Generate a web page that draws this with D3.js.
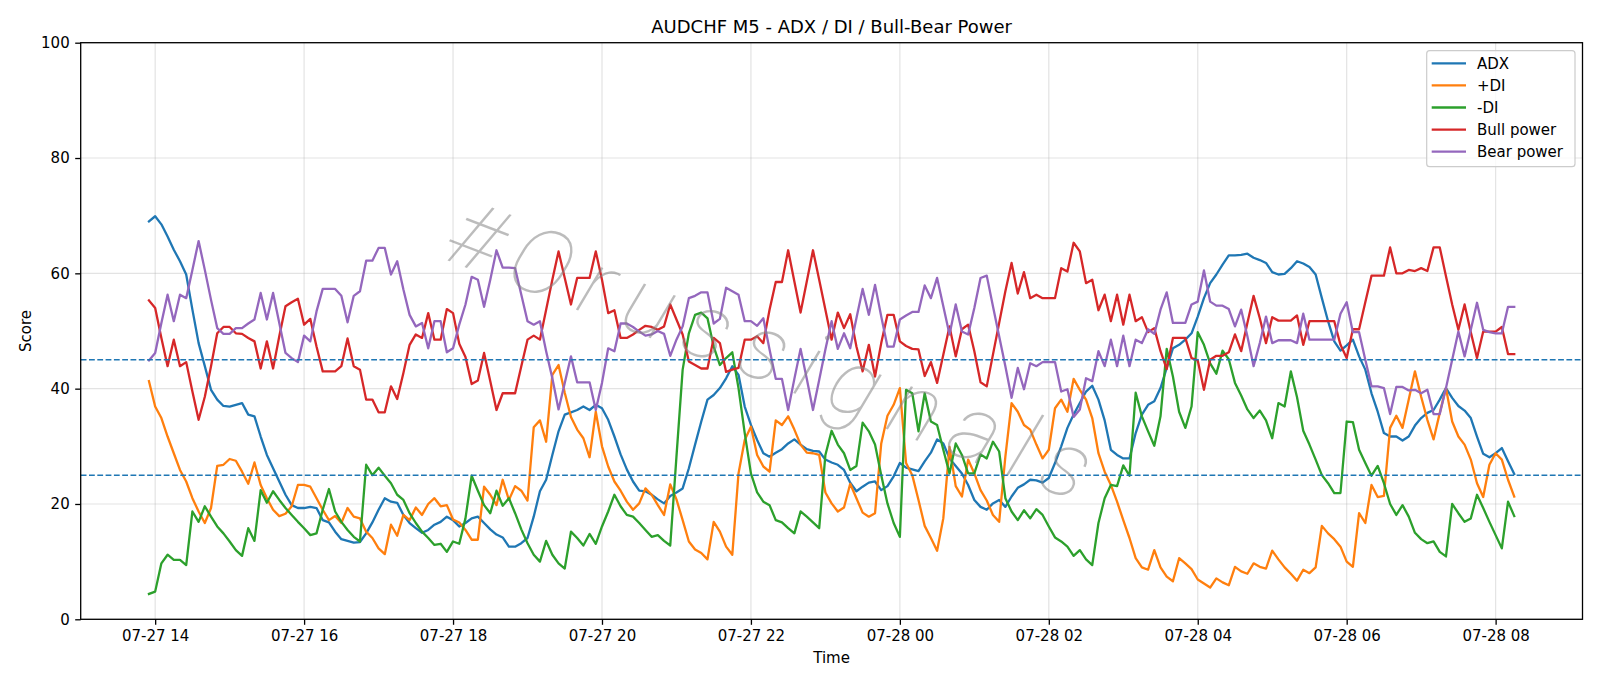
<html>
<head>
  <script src="https://d3js.org/d3.v7.min.js"></script>
  <style>
    body { margin: 0; background: white; }
    text { font-family: "DejaVu Sans", sans-serif; fill: black; }
  </style>
</head>
<body>
  <svg id="chart" width="1600" height="686"></svg>
  <script>
    // 5 minute bars, first bar at 07-27 13:55
    const startTime = Date.UTC(2025, 6, 27, 13, 55);
    const stepMinutes = 5;

    const adx = [
      69.0, 69.9, 68.5, 66.4, 64.1, 62.1, 59.8, 53.7, 47.9, 43.9,
      39.8, 38.1, 37.0, 36.9, 37.2, 37.5, 35.5, 35.2, 31.7, 28.5,
      26.2, 23.9, 21.6, 19.8, 19.3, 19.3, 19.5, 19.3, 17.2, 16.8,
      15.2, 13.9, 13.6, 13.3, 13.4, 14.9, 16.8, 19.0, 21.0, 20.4,
      20.2, 18.1, 16.7, 15.8, 15.0, 15.5, 16.4, 16.9, 17.8, 17.2,
      16.1, 16.7, 17.5, 17.8, 16.7, 15.6, 14.7, 14.2, 12.6, 12.6,
      13.2, 14.1, 17.8, 22.2, 24.2, 28.5, 32.6, 35.5, 35.9, 36.3,
      36.9, 36.3, 37.2, 36.6, 34.6, 31.7, 28.6, 26.0, 23.9, 22.3,
      22.2, 21.6, 20.8, 20.1, 21.4, 22.0, 22.7, 26.2, 30.3, 34.3,
      38.1, 38.9, 40.1, 41.8, 43.9, 42.4, 36.9, 33.7, 31.1, 28.8,
      28.2, 28.9, 29.5, 30.5, 31.2, 30.3, 29.5, 29.2, 29.1, 27.7,
      27.2, 26.8, 25.9, 23.7, 22.2, 23.0, 23.7, 23.9, 22.4, 23.1,
      24.8, 27.1, 26.3, 26.0, 25.7, 27.4, 28.9, 31.2, 30.5, 27.9,
      26.6, 25.3, 23.3, 20.7, 19.5, 19.0, 20.1, 20.7, 19.5, 21.3,
      22.8, 23.4, 24.2, 24.1, 23.7, 24.5, 27.1, 30.0, 33.2, 35.5,
      37.5, 39.5, 40.5, 38.1, 34.5, 29.4, 28.5, 27.9, 27.9, 32.3,
      35.5, 37.2, 37.8, 40.1, 43.6, 47.0, 47.6, 48.5, 49.6, 52.5,
      55.7, 58.3, 59.8, 61.5, 63.1, 63.1, 63.2, 63.4, 62.7, 62.3,
      61.8, 60.2, 59.8, 59.9, 60.9, 62.1, 61.7, 61.1, 59.8, 55.7,
      51.7, 48.2, 46.6, 47.5, 48.5, 45.6, 43.3, 39.2, 36.0, 32.3,
      31.7, 31.7, 31.0, 31.7, 33.6, 34.9, 35.8, 36.3, 38.1, 40.1,
      38.4, 37.0, 36.2, 34.9, 31.7, 28.7, 28.1, 28.8, 29.7, 27.4,
      25.2
    ];

    const plusDi = [
      41.3, 36.9, 34.9, 31.7, 28.8, 25.9, 23.9, 21.0, 18.7, 16.7,
      19.3, 26.6, 26.8, 27.8, 27.5, 25.6, 23.5, 27.2, 23.3, 21.0,
      19.0, 17.9, 18.3, 19.6, 23.3, 23.3, 23.0, 21.0, 19.0, 17.2,
      17.9, 16.7, 19.3, 17.8, 17.5, 15.2, 14.1, 12.3, 11.3, 16.4,
      14.5, 18.1, 17.2, 19.4, 18.1, 20.0, 21.0, 19.6, 19.8, 17.3,
      16.8, 15.5, 13.8, 13.8, 23.0, 21.6, 19.8, 24.2, 20.7, 23.1,
      22.3, 20.6, 33.3, 34.5, 30.8, 42.4, 44.1, 39.3, 35.1, 32.9,
      31.4, 28.1, 36.0, 30.0, 26.5, 23.9, 22.3, 20.4, 19.0, 20.1,
      22.7, 21.6, 19.8, 18.1, 23.4, 20.8, 17.2, 13.5, 12.1, 11.5,
      10.4, 16.9, 15.2, 12.6, 11.2, 25.3, 31.1, 33.4, 28.5, 26.5,
      25.6, 34.5, 33.7, 35.2, 32.9, 30.3, 28.9, 28.8, 28.5, 22.0,
      20.1, 18.7, 19.4, 23.5, 21.0, 18.5, 17.8, 18.4, 30.5, 35.3,
      37.2, 40.1, 27.1, 25.0, 20.7, 16.2, 14.1, 11.9, 17.5, 29.9,
      23.1, 21.3, 27.7, 25.3, 22.4, 20.6, 18.1, 16.9, 28.2, 37.5,
      36.0, 33.7, 32.9, 30.3, 27.9, 29.4, 36.6, 38.1, 36.0, 41.7,
      39.8, 38.1, 34.9, 28.8, 25.6, 23.3, 20.4, 17.2, 14.1, 10.6,
      9.0, 8.6, 12.0, 9.0, 7.4, 6.6, 10.6, 9.7, 8.7, 6.9,
      6.2, 5.5, 7.1, 6.4, 5.9, 9.1, 8.3, 7.9, 9.7, 9.1,
      8.8, 11.9, 10.4, 9.0, 7.9, 6.7, 8.6, 8.0, 9.0, 16.2,
      14.9, 13.9, 12.6, 10.0, 9.1, 18.4, 16.7, 23.3, 21.2, 21.4,
      33.2, 35.3, 33.2, 38.1, 43.0, 38.6, 34.6, 31.2, 35.8, 40.1,
      34.3, 31.7, 30.3, 27.7, 23.6, 21.2, 26.8, 28.8, 27.7, 24.2,
      21.3
    ];

    const minusDi = [
      4.4, 4.8, 9.7, 11.2, 10.3, 10.3, 9.4, 18.7, 16.9, 19.6,
      17.8, 16.1, 14.9, 13.5, 12.0, 11.0, 15.8, 13.6, 22.4, 20.2,
      22.2, 20.7, 19.3, 18.1, 16.9, 15.8, 14.6, 14.9, 19.0, 22.6,
      18.7, 16.9, 15.5, 14.3, 13.5, 26.8, 25.0, 26.3, 24.9, 23.6,
      21.6, 20.7, 18.4, 16.7, 15.2, 14.1, 12.9, 13.1, 11.7, 13.5,
      13.1, 17.5, 24.9, 22.3, 19.8, 18.4, 22.3, 19.7, 21.0, 18.4,
      15.6, 13.2, 11.2, 10.0, 13.6, 11.2, 9.7, 8.8, 15.2, 14.1,
      12.8, 14.8, 13.1, 16.1, 18.7, 21.6, 19.6, 18.1, 17.8, 16.7,
      15.5, 14.3, 14.6, 13.6, 12.8, 28.2, 43.3, 49.6, 52.8, 53.2,
      52.2, 47.3, 44.1, 45.3, 46.3, 40.1, 32.3, 25.3, 22.0, 20.4,
      19.8, 17.2, 16.8, 15.8, 14.9, 18.7, 17.8, 16.8, 15.8, 28.5,
      32.7, 30.3, 28.8, 25.9, 26.6, 34.1, 32.6, 30.3, 25.0, 20.1,
      16.7, 14.3, 39.8, 39.2, 32.6, 39.2, 34.3, 33.7, 29.4, 25.3,
      30.5, 28.5, 25.3, 25.3, 28.6, 27.9, 30.8, 29.1, 21.0, 18.7,
      17.2, 18.9, 17.5, 19.1, 18.1, 16.1, 14.2, 13.5, 12.6, 11.0,
      12.0, 10.4, 9.4, 16.7, 21.0, 23.3, 23.1, 26.7, 24.9, 39.3,
      35.2, 32.6, 30.1, 35.2, 46.9, 42.1, 36.0, 33.2, 36.9, 49.8,
      47.6, 44.4, 42.6, 46.6, 45.1, 41.0, 38.8, 36.4, 34.9, 36.2,
      34.5, 31.4, 37.5, 36.9, 43.0, 38.5, 32.7, 30.3, 27.7, 25.0,
      23.6, 21.9, 21.9, 34.3, 34.2, 29.4, 27.1, 24.9, 26.6, 23.6,
      20.0, 18.1, 19.8, 17.8, 15.0, 13.9, 13.2, 13.5, 11.7, 10.9,
      20.0, 18.4, 16.9, 17.5, 21.6, 19.3, 16.9, 14.6, 12.3, 20.4,
      17.9
    ];

    const bullPower = [
      55.3, 54.0, 48.8, 43.9, 48.5, 43.9, 44.6, 39.5, 34.6, 38.6,
      43.9, 49.6, 50.7, 50.7, 49.6, 49.5, 48.8, 48.2, 43.5, 48.2,
      43.5, 49.1, 54.3, 55.0, 55.6, 51.1, 52.1, 47.3, 43.0, 43.0,
      43.0, 43.9, 48.7, 43.9, 43.3, 38.1, 38.1, 35.9, 35.9, 40.4,
      38.2, 42.7, 47.6, 49.4, 48.8, 53.1, 48.5, 48.5, 53.8, 53.1,
      47.8, 45.5, 40.8, 41.4, 46.2, 41.3, 36.3, 39.2, 39.2, 39.2,
      43.9, 48.5, 49.2, 48.5, 53.7, 58.9, 63.8, 59.2, 54.6, 59.2,
      59.2, 59.2, 63.8, 58.9, 53.1, 53.6, 48.8, 48.8, 49.4, 50.2,
      50.9, 50.7, 50.2, 50.8, 54.6, 52.0, 49.4, 44.7, 44.1, 43.5,
      43.5, 48.8, 47.9, 42.9, 43.3, 43.6, 48.5, 48.5, 49.1, 47.9,
      53.7, 58.5, 58.5, 64.0, 58.6, 53.2, 58.6, 64.0, 58.9, 53.7,
      48.5, 53.2, 50.5, 52.9, 47.3, 43.0, 47.6, 42.1, 47.9, 52.8,
      52.8, 48.2, 47.4, 46.9, 46.8, 42.2, 44.6, 41.0, 45.9, 50.8,
      45.6, 50.3, 51.1, 46.5, 41.1, 40.4, 45.9, 51.4, 56.9, 61.8,
      56.5, 60.2, 55.7, 56.3, 55.7, 55.7, 55.7, 60.9, 60.3, 65.3,
      63.8, 58.3, 58.9, 53.6, 56.3, 51.7, 56.3, 51.1, 56.3, 51.7,
      52.4, 49.8, 50.5, 46.5, 43.4, 48.8, 48.8, 48.8, 45.3, 44.9,
      39.8, 45.0, 45.7, 45.7, 46.3, 49.4, 46.5, 51.4, 56.1, 52.2,
      47.9, 52.4, 51.8, 51.8, 51.8, 52.7, 47.6, 51.7, 51.7, 51.7,
      51.7, 51.7, 47.6, 45.3, 50.3, 50.3, 55.0, 59.6, 59.6, 59.6,
      64.5, 60.0, 60.0, 60.6, 60.4, 60.9, 60.4, 64.5, 64.5, 59.5,
      54.6, 50.2, 54.6, 49.8, 45.3, 49.9, 49.9, 49.9, 50.7, 46.0,
      46.0
    ];

    const bearPower = [
      44.9, 46.2, 51.4, 56.3, 51.7, 56.3, 55.7, 60.6, 65.6, 60.6,
      55.4, 50.5, 49.5, 49.5, 50.5, 50.5, 51.3, 52.0, 56.6, 52.0,
      56.6, 51.4, 46.2, 45.3, 44.6, 49.2, 48.2, 53.4, 57.3, 57.3,
      57.3, 56.1, 51.5, 56.1, 56.9, 62.2, 62.2, 64.4, 64.4, 59.8,
      62.1, 57.2, 52.8, 50.8, 51.4, 47.0, 51.7, 51.7, 46.3, 47.0,
      51.1, 54.6, 59.4, 58.9, 54.2, 58.9, 64.0, 61.0, 61.0, 60.9,
      56.3, 51.7, 51.1, 51.7, 46.5, 41.8, 36.4, 41.0, 45.6, 41.1,
      41.1, 41.1, 36.3, 41.0, 47.0, 46.5, 51.3, 51.3, 50.7, 49.9,
      49.2, 49.4, 50.0, 49.5, 45.7, 48.5, 50.8, 55.7, 56.1, 56.7,
      56.7, 51.3, 52.1, 57.5, 56.9, 56.3, 51.7, 51.7, 50.9, 52.2,
      46.8, 41.7, 41.7, 36.3, 41.7, 46.9, 41.7, 36.3, 41.5, 46.8,
      51.7, 46.9, 49.6, 47.0, 52.2, 57.3, 52.8, 58.0, 52.5, 47.3,
      47.3, 52.0, 52.7, 53.3, 53.3, 57.9, 55.7, 59.2, 54.3, 49.4,
      54.6, 49.9, 49.4, 54.0, 59.2, 59.6, 54.3, 49.1, 43.9, 38.4,
      43.6, 39.9, 44.4, 43.9, 44.6, 44.6, 44.6, 39.5, 39.9, 35.1,
      36.4, 41.8, 41.3, 46.5, 43.9, 48.5, 43.9, 49.2, 43.9, 48.5,
      47.9, 50.3, 49.5, 53.7, 56.7, 51.4, 51.4, 51.4, 54.6, 55.1,
      60.5, 55.1, 54.4, 54.4, 53.8, 50.8, 53.7, 49.1, 43.9, 47.9,
      52.5, 47.9, 48.4, 48.4, 48.4, 47.9, 53.0, 48.5, 48.5, 48.5,
      48.5, 48.5, 53.0, 55.0, 49.8, 49.8, 45.0, 40.4, 40.4, 40.1,
      35.6, 40.3, 40.3, 39.7, 39.8, 39.2, 39.8, 35.6, 35.6, 40.1,
      45.0, 49.9, 45.6, 50.2, 54.9, 50.2, 49.8, 49.6, 49.6, 54.2,
      54.2
    ];

    const seriesNames = ["ADX", "+DI", "-DI", "Bull power", "Bear power"];
    const seriesColors = ["#1f77b4", "#ff7f0e", "#2ca02c", "#d62728", "#9467bd"];
    const levels = [25, 45];
    const yTicks = [0, 20, 40, 60, 80, 100];

    const svg = d3.select("svg#chart");
    const plotLeft = 80.7, plotRight = 1582.5, plotTop = 42.7, plotBottom = 619.3;
    const fontSize = 15;

    const times = adx.map((d, i) => new Date(startTime + i * stepMinutes * 60000));
    const pad = 0.05 * (times[times.length - 1] - times[0]);
    const x = d3.scaleUtc()
      .domain([new Date(+times[0] - pad), new Date(+times[times.length - 1] + pad)])
      .range([plotLeft, plotRight]);
    const y = d3.scaleLinear().domain([0, 100]).range([plotBottom, plotTop]);
    const xTicks = x.ticks(d3.utcHour.every(2));

    // grid
    const grid = svg.append("g");
    xTicks.forEach(t => {
      grid.append("line")
        .attr("x1", x(t)).attr("x2", x(t))
        .attr("y1", plotTop).attr("y2", plotBottom)
        .style("stroke", "#b0b0b0").style("stroke-opacity", 0.35).style("stroke-width", 1.2);
    });
    yTicks.forEach(v => {
      grid.append("line")
        .attr("x1", plotLeft).attr("x2", plotRight)
        .attr("y1", y(v)).attr("y2", y(v))
        .style("stroke", "#b0b0b0").style("stroke-opacity", 0.35).style("stroke-width", 1.2);
    });

    // series
    const allSeries = [adx, plusDi, minusDi, bullPower, bearPower];
    const line = d3.line().x((d, i) => x(times[i])).y(d => y(d));
    allSeries.forEach((values, k) => {
      svg.append("path")
        .attr("d", line(values))
        .style("fill", "none")
        .style("stroke", seriesColors[k])
        .style("stroke-width", 2.3)
        .style("stroke-linejoin", "round")
        .style("stroke-linecap", "square");
    });

    // level lines
    levels.forEach(v => {
      svg.append("line")
        .attr("x1", plotLeft).attr("x2", plotRight)
        .attr("y1", y(v)).attr("y2", y(v))
        .style("stroke", "#1f77b4").style("stroke-width", 1.5)
        .style("stroke-dasharray", "5.8,2.5");
    });

    // watermark, thin grey text across the middle
    svg.append("text")
      .attr("transform", "translate(770,352) rotate(21)")
      .attr("y", 30)
      .attr("text-anchor", "middle")
      .attr("textLength", 680)
      .attr("lengthAdjust", "spacing")
      .style("font-family", "Roboto, Lato, Inter, sans-serif")
      .style("font-weight", 100)
      .style("font-style", "italic")
      .style("font-size", "92px")
      .style("fill", "#858585")
      .style("fill-opacity", 0.55)
      .text("#Orussignals");

    // frame
    svg.append("rect")
      .attr("x", plotLeft).attr("y", plotTop)
      .attr("width", plotRight - plotLeft).attr("height", plotBottom - plotTop)
      .style("fill", "none").style("stroke", "black").style("stroke-width", 1.3);

    // x axis
    const xAxis = svg.append("g")
      .attr("transform", `translate(0,${plotBottom})`)
      .call(d3.axisBottom(x).tickValues(xTicks).tickFormat(d3.utcFormat("%m-%d %H"))
        .tickSize(5.5).tickSizeOuter(0).tickPadding(5.5));
    xAxis.select(".domain").remove();
    xAxis.selectAll("line").style("stroke", "black").style("stroke-width", 1.3);
    xAxis.selectAll("text").style("font-size", fontSize + "px").style("font-family", "DejaVu Sans");

    // y axis
    const yAxis = svg.append("g")
      .attr("transform", `translate(${plotLeft},0)`)
      .call(d3.axisLeft(y).tickValues(yTicks).tickSize(5.5).tickSizeOuter(0).tickPadding(5.5));
    yAxis.select(".domain").remove();
    yAxis.selectAll("line").style("stroke", "black").style("stroke-width", 1.3);
    yAxis.selectAll("text").style("font-size", fontSize + "px").style("font-family", "DejaVu Sans");

    // titles
    svg.append("text")
      .attr("x", (plotLeft + plotRight) / 2).attr("y", 33)
      .attr("text-anchor", "middle")
      .style("font-size", "18px")
      .text("AUDCHF M5 - ADX / DI / Bull-Bear Power");
    svg.append("text")
      .attr("x", (plotLeft + plotRight) / 2).attr("y", 663)
      .attr("text-anchor", "middle")
      .style("font-size", fontSize + "px")
      .text("Time");
    svg.append("text")
      .attr("transform", "translate(31," + ((plotTop + plotBottom) / 2) + ") rotate(-90)")
      .attr("text-anchor", "middle")
      .style("font-size", fontSize + "px")
      .text("Score");

    // legend
    const legend = svg.append("g");
    legend.append("rect")
      .attr("x", 1426.7).attr("y", 50.7)
      .attr("width", 148.3).attr("height", 116)
      .attr("rx", 3)
      .style("fill", "white").style("fill-opacity", 0.8)
      .style("stroke", "#cccccc").style("stroke-width", 1.2);
    seriesNames.forEach((name, k) => {
      const ly = 63.3 + k * 22.1;
      legend.append("line")
        .attr("x1", 1431.7).attr("x2", 1466)
        .attr("y1", ly).attr("y2", ly)
        .style("stroke", seriesColors[k]).style("stroke-width", 2.3);
      legend.append("text")
        .attr("x", 1477).attr("y", ly + 5.3)
        .style("font-size", fontSize + "px")
        .text(name);
    });
  </script>
</body>
</html>
